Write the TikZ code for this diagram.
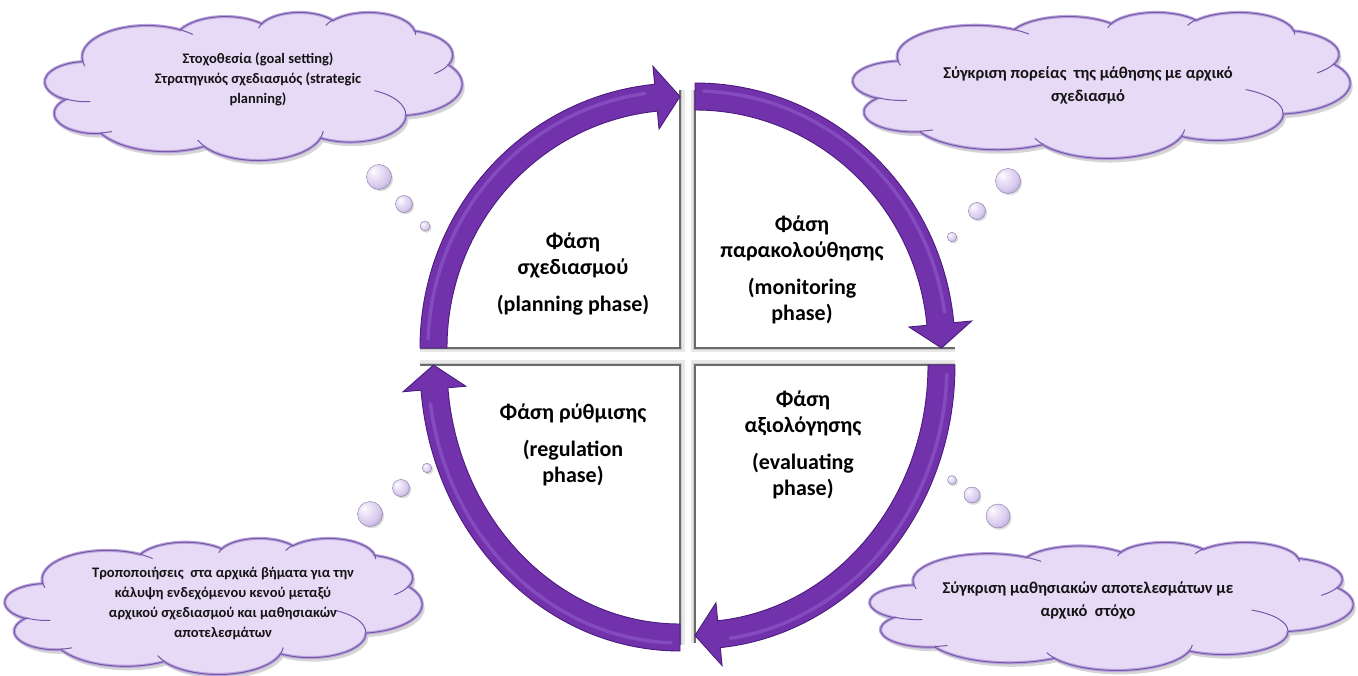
\documentclass[tikz,border=0pt]{standalone}
\usepackage{fontspec}
\setmainfont{Carlito}
\usetikzlibrary{calc,shadows}

\definecolor{arrowfill}{HTML}{7232AC}
\definecolor{arrowedge}{HTML}{4C1B7E}
\definecolor{arrowsheen}{HTML}{9E72D8}
\definecolor{cloudfill}{HTML}{E7DAF7}
\definecolor{cloudrimc}{HTML}{BBA5DD}
\definecolor{cloudedge}{HTML}{7457A6}
\definecolor{bubblelight}{HTML}{F3EEFB}
\definecolor{bubblemid}{HTML}{D6C8EC}
\definecolor{bubbledark}{HTML}{9C88C0}
\definecolor{bubbleedge}{HTML}{6A5690}
\definecolor{inktext}{HTML}{141414}

% soft lavender sphere for the thought bubbles
\pgfdeclareradialshading{bubbleshade}{\pgfqpoint{-12bp}{12bp}}{%
  color(0bp)=(white);
  color(6bp)=(bubblelight);
  color(26bp)=(bubblemid);
  color(44bp)=(bubbledark);
  color(62bp)=(bubbleedge);
  color(70bp)=(bubbleedge)}

% cloud outline in a 432 x 432 box, y pointing down
\newcommand{\cloudoutline}{%
  (39.00,143.70)
  arc[start angle=-187.75, delta angle=128.11, x radius=67.53, y radius=91.90]
  arc[start angle=-152.05, delta angle=106.59, x radius=53.33, y radius=72.67]
  arc[start angle=-153.50, delta angle=116.17, x radius=43.65, y radius=59.45]
  arc[start angle=-139.71, delta angle=129.50, x radius=48.57, y radius=65.95]
  arc[start angle=-74.77, delta angle=97.98, x radius=53.33, y radius=72.73]
  arc[start angle=-37.53, delta angle=119.39, x radius=67.75, y radius=92.20]
  arc[start angle=0.46, delta angle=121.52, x radius=57.85, y radius=78.67]
  arc[start angle=16.84, delta angle=129.38, x radius=67.52, y radius=92.15]
  arc[start angle=59.00, delta angle=91.19, x radius=77.20, y radius=105.43]
  arc[start angle=-276.69, delta angle=139.80, x radius=43.60, y radius=59.18]
  arc[start angle=-239.65, delta angle=143.76, x radius=43.45, y radius=59.45]
  -- cycle}

% the short creases between the puffs
\newcommand{\cloudcreases}{%
  (46.93,261.77) arc[start angle=85.55, delta angle=34.82, x radius=43.45, y radius=59.45]
  (69.28,348.99) arc[start angle=68.24, delta angle=15.07, x radius=43.60, y radius=59.18]
  (164.78,390.90) arc[start angle=146.22, delta angle=12.26, x radius=67.52, y radius=92.15]
  (288.27,347.51) arc[start angle=4.74, delta angle=12.10, x radius=67.52, y radius=92.15]
  (341.29,229.54) arc[start angle=-64.03, delta angle=64.49, x radius=57.85, y radius=78.67]
  (417.98,153.54) arc[start angle=23.21, delta angle=26.43, x radius=53.33, y radius=72.73]
  (383.24,54.26) arc[start angle=-10.21, delta angle=11.03, x radius=48.57, y radius=65.95]
  (290.78,39.52) arc[start angle=-156.29, delta angle=16.58, x radius=48.57, y radius=65.95]
  (221.41,47.20) arc[start angle=-167.73, delta angle=14.23, x radius=43.65, y radius=59.45]
  (140.00,51.92) arc[start angle=-59.64, delta angle=13.90, x radius=67.53, y radius=91.90]
  (41.27,157.89) arc[start angle=163.20, delta angle=9.05, x radius=67.53, y radius=91.90]}

% #1,#2 top-left corner, #3 width, #4 height
\newcommand{\cloudat}[4]{%
  \begin{scope}[shift={(#1+2.5,-#2-4)}, xscale=#3/432, yscale=-#4/432]
    \fill[cloudshadow] \cloudoutline;
  \end{scope}
  \begin{scope}[shift={(#1,-#2)}, xscale=#3/432, yscale=-#4/432]
    \fill[cloudbody] \cloudoutline;
    \draw[cloudrim] \cloudoutline;
    \draw[cloudline] \cloudoutline;
    \draw[cloudcrease] \cloudcreases;
  \end{scope}}

\begin{document}
\begin{tikzpicture}[x=1pt, y=1pt,
  phasetext/.style={font=\fontsize{22}{26}\selectfont\bfseries, align=center, text=black},
  cloudtext/.style={font=\fontsize{14.5}{20}\selectfont\bfseries, align=center, text=inktext},
  cloudtextwide/.style={font=\fontsize{16.5}{23}\selectfont\bfseries, align=center, text=inktext},
  quarter/.style={fill=white},
  edgeglowwide/.style={draw=black!9, line width=9pt},
  edgeglow/.style={draw=black!20, line width=4.5pt},
  edgeline/.style={draw=black!58, line width=1.5pt},
  arrowbody/.style={fill=arrowfill, draw=arrowedge, line width=0.9pt, line join=miter},
  arrowshine/.style={draw=arrowsheen, line width=3.5pt, opacity=0.4, line cap=round},
  cloudshadow/.style={fill=black, opacity=0.16},
  cloudbody/.style={fill=cloudfill},
  cloudrim/.style={draw=cloudrimc, line width=3.2pt},
  cloudline/.style={draw=cloudedge, line width=1pt},
  cloudcrease/.style={draw=cloudedge, line width=1pt},
  thought/.style={circle, inner sep=0pt, shading=bubbleshade, draw=bubbleedge!80, line width=0.4pt,
    drop shadow={opacity=0.28, shadow xshift=1.6pt, shadow yshift=-1.8pt}}]

\useasboundingbox (0,0) rectangle (1358,-676);
\fill[white] (0,0) rectangle (1358,-676);

% inner corners of the four quarters
\coordinate (ctl) at (680,-348);
\coordinate (ctr) at (695,-348);
\coordinate (cbl) at (680,-365);
\coordinate (cbr) at (695,-365);

% soft shadow along the straight edges of the quarters
\foreach \sty in {edgeglowwide, edgeglow}{
  \draw[\sty] (420,-348) -- (ctl) -- (680,-90);
  \draw[\sty] (955,-348) -- (ctr) -- (695,-90);
  \draw[\sty] (420,-365) -- (cbl) -- (680,-645);
  \draw[\sty] (955,-365) -- (cbr) -- (695,-643);
}

% white quarter panels
\fill[quarter] (ctl) -- ($(ctl)+(180:260 and 265)$) arc[start angle=180, end angle=90, x radius=260, y radius=265] -- cycle;
\fill[quarter] (ctr) -- ($(ctr)+(90:260 and 265)$) arc[start angle=90, end angle=0, x radius=260, y radius=265] -- cycle;
\fill[quarter] (cbr) -- ($(cbr)+(0:260 and 284)$) arc[start angle=0, end angle=-90, x radius=260, y radius=284] -- cycle;
\fill[quarter] (cbl) -- ($(cbl)+(-90:260 and 286)$) arc[start angle=-90, end angle=-180, x radius=260, y radius=286] -- cycle;

\draw[edgeline] (420,-348) -- (ctl) -- (680,-90);
\draw[edgeline] (955,-348) -- (ctr) -- (695,-90);
\draw[edgeline] (420,-365) -- (cbl) -- (680,-645);
\draw[edgeline] (955,-365) -- (cbr) -- (695,-643);

% curved arrows, clockwise
\path[arrowbody] ($(ctl)+(180:260 and 265)$)
  arc[start angle=180, end angle=95.59, x radius=260, y radius=265]
  -- ($(ctl)+(95.59:278 and 283)$) -- ($(ctl)+(90:246.5 and 251.5)$) -- ($(ctl)+(95.59:215 and 220)$)
  -- ($(ctl)+(95.59:233 and 238)$)
  arc[start angle=95.59, end angle=180, x radius=233, y radius=238] -- cycle;
\draw[arrowshine] ($(ctl)+(178:252 and 257)$) arc[start angle=178, end angle=98, x radius=252, y radius=257];

\path[arrowbody] ($(ctr)+(90:260 and 265)$)
  arc[start angle=90, end angle=5.48, x radius=260, y radius=265]
  -- ($(ctr)+(5.48:278 and 283)$) -- ($(ctr)+(0:246.5 and 251.5)$) -- ($(ctr)+(5.48:215 and 220)$)
  -- ($(ctr)+(5.48:233 and 238)$)
  arc[start angle=5.48, end angle=90, x radius=233, y radius=238] -- cycle;
\draw[arrowshine] ($(ctr)+(88:252 and 257)$) arc[start angle=88, end angle=8, x radius=252, y radius=257];

\path[arrowbody] ($(cbr)+(0:260 and 284)$)
  arc[start angle=0, end angle=-84.41, x radius=260, y radius=284]
  -- ($(cbr)+(-84.41:278 and 302)$) -- ($(cbr)+(-90:246.5 and 270.5)$) -- ($(cbr)+(-84.41:215 and 239)$)
  -- ($(cbr)+(-84.41:233 and 257)$)
  arc[start angle=-84.41, end angle=0, x radius=233, y radius=257] -- cycle;
\draw[arrowshine] ($(cbr)+(-2:252 and 276)$) arc[start angle=-2, end angle=-82, x radius=252, y radius=276];

\path[arrowbody] ($(cbl)+(-90:260 and 286)$)
  arc[start angle=-90, end angle=-174.95, x radius=260, y radius=286]
  -- ($(cbl)+(-174.95:278 and 304)$) -- ($(cbl)+(-180:246.5 and 272.5)$) -- ($(cbl)+(-174.95:215 and 241)$)
  -- ($(cbl)+(-174.95:233 and 259)$)
  arc[start angle=-174.95, end angle=-90, x radius=233, y radius=259] -- cycle;
\draw[arrowshine] ($(cbl)+(-92:252 and 278)$) arc[start angle=-92, end angle=-172, x radius=252, y radius=278];

% phase labels
\node[phasetext] (plan) at (573,-274) {Φάση\\σχεδιασμού\\[11pt](planning phase)};
\node[phasetext] (monitor) at (802,-270) {Φάση\\παρακολούθησης\\[11pt](monitoring\\phase)};
\node[phasetext] (regul) at (573,-445) {Φάση ρύθμισης\\[11pt](regulation\\phase)};
\node[phasetext] (evalu) at (803,-445) {Φάση\\αξιολόγησης\\[11pt](evaluating\\phase)};

% thought clouds
\cloudat{45}{12}{417}{148}
\cloudat{853}{12}{497}{146}
\cloudat{5}{538}{417}{136}
\cloudat{870}{542}{483}{128}

\node[cloudtext] (goal) at (258,-79) {Στοχοθεσία (goal setting)\\Στρατηγικός σχεδιασμός (strategic\\planning)};
\node[cloudtextwide] (course) at (1088,-85) {Σύγκριση πορείας\ \ της μάθησης με αρχικό\\σχεδιασμό};
\node[cloudtext] (adjust) at (223,-603) {Τροποποιήσεις\ \ στα αρχικά βήματα για την\\κάλυψη ενδεχόμενου κενού μεταξύ\\αρχικού σχεδιασμού και μαθησιακών\\αποτελεσμάτων};
\node[cloudtextwide] (outcome) at (1088,-600) {Σύγκριση μαθησιακών αποτελεσμάτων με\\αρχικό\ \ στόχο};

% thought bubbles
\node[thought, minimum size=25pt] (tl1) at (379,-177) {};
\node[thought, minimum size=17pt] (tl2) at (404,-204) {};
\node[thought, minimum size=10pt] (tl3) at (425,-226) {};
\node[thought, minimum size=25pt] (tr1) at (1008,-181) {};
\node[thought, minimum size=17pt] (tr2) at (977,-211) {};
\node[thought, minimum size=9.5pt] (tr3) at (952,-237) {};
\node[thought, minimum size=9.5pt] (bl3) at (427,-468) {};
\node[thought, minimum size=17pt] (bl2) at (401,-488) {};
\node[thought, minimum size=25pt] (bl1) at (370,-514) {};
\node[thought, minimum size=9pt] (br3) at (952,-480) {};
\node[thought, minimum size=16pt] (br2) at (972,-495) {};
\node[thought, minimum size=24pt] (br1) at (998,-516) {};

\end{tikzpicture}
\end{document}
